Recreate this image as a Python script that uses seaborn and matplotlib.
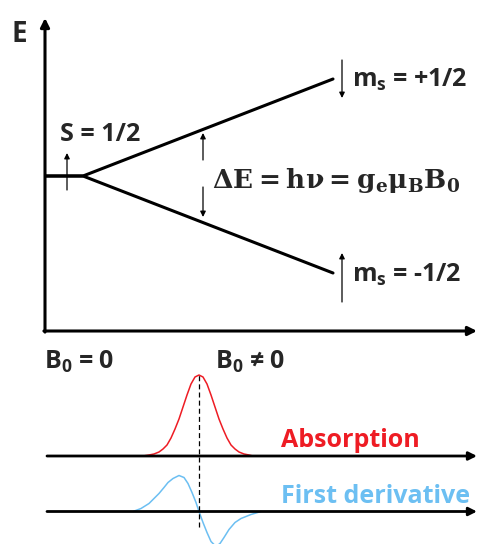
import matplotlib
matplotlib.use('Agg')
import matplotlib.pyplot as plt
import seaborn as sns
import pandas as pd

sns.set_theme(style='white')
plt.rcParams['font.family'] = ['Open Sans', 'DejaVu Sans']
plt.rcParams['font.weight'] = 'bold'
plt.rcParams['mathtext.fontset'] = 'custom'
plt.rcParams['mathtext.rm'] = 'Open Sans:bold'
plt.rcParams['mathtext.it'] = 'Open Sans:bold'
plt.rcParams['mathtext.bf'] = 'Open Sans:bold'

# ---------------- data ----------------
level_field = [0, 38, 288]
upper_energy = [155, 155, 252]   # m_s = +1/2
lower_energy = [155, 155, 58]    # m_s = -1/2

resonance_field = 154

absorption_field = [98, 104, 109, 114, 118, 122, 126, 130, 134, 138, 142, 146, 150, 154,
                    158, 162, 166, 170, 174, 178, 182, 186, 190, 194, 199, 204, 208]
absorption_signal = [0, 1, 2, 4, 7, 11, 18, 27, 37, 49, 61, 72, 79, 81,
                     79, 72, 61, 49, 37, 27, 18, 11, 7, 4, 2, 1, 0]

derivative_field = [88, 96, 104, 109, 114, 119, 123, 128, 134, 139, 143, 147, 151, 154,
                    158, 162, 166, 171, 175, 179, 184, 190, 196, 206, 216]
derivative_signal = [0, 3, 8, 13, 18, 24, 29, 33, 36, 34, 28, 19, 9, 0,
                     -11, -21, -30, -35, -32, -26, -18, -11, -7, -3, 0]

RED = '#ee1c24'
BLUE = '#6cbff2'
W, H = 478, 544

fig = plt.figure(figsize=(W / 100, H / 100), dpi=100)
fig.patch.set_facecolor('white')

ax = fig.add_axes([45 / W, (H - 331) / H, 433 / W, 313 / H])
ax.set_xlim(0, 433)
ax.set_ylim(0, 313)
ax.set_axis_off()

axis_arrow = dict(arrowstyle='-|>', lw=2.2, color='black', mutation_scale=13,
                  shrinkA=0, shrinkB=0)
ax.annotate('', xy=(0, 313), xytext=(0, -1.1), arrowprops=axis_arrow)
ax.annotate('', xy=(432, 0), xytext=(-1.1, 0), arrowprops=axis_arrow)

levels = pd.DataFrame({'B': level_field * 2,
                       'E': upper_energy + lower_energy,
                       'level': ['+1/2'] * 3 + ['-1/2'] * 3})
sns.lineplot(data=levels, x='B', y='E', units='level', estimator=None, sort=False,
             color='black', lw=2.2, ax=ax, legend=False)
ax.set_xlabel('')
ax.set_ylabel('')

small_arrow = dict(arrowstyle='-|>', lw=0.9, color='black', mutation_scale=8,
                   shrinkA=0, shrinkB=0)
ax.annotate('', xy=(22, 178), xytext=(22, 141), arrowprops=small_arrow)
ax.annotate('', xy=(158, 198), xytext=(158, 171), arrowprops=small_arrow)
ax.annotate('', xy=(158, 114), xytext=(158, 144), arrowprops=small_arrow)
ax.annotate('', xy=(297, 233), xytext=(297, 271), arrowprops=small_arrow)
ax.annotate('', xy=(297, 78), xytext=(297, 29), arrowprops=small_arrow)

ax.text(-33, 297, 'E', fontsize=20, va='center', ha='left')
ax.text(15, 190, 'S = 1/2', fontsize=18, va='baseline', ha='left')
ax.text(307, 244, r'm$_\mathrm{s}$ = +1/2', fontsize=18, va='baseline', ha='left')
ax.text(307, 49, r'm$_\mathrm{s}$ = -1/2', fontsize=18, va='baseline', ha='left')
ax.text(167, 143, r'$\mathbf{\Delta E = h\nu = g_e\mu_B B_0}$', fontsize=19,
        math_fontfamily='dejavuserif', va='baseline', ha='left')

bx = fig.add_axes([45 / W, 0, 433 / W, 199 / H])
bx.set_xlim(0, 433)
bx.set_ylim(0, 199)
bx.set_axis_off()

absorption_base = 88
derivative_base = 32.5

base_arrow = dict(arrowstyle='-|>', lw=2.0, color='black', mutation_scale=12,
                  shrinkA=0, shrinkB=0)
bx.annotate('', xy=(432, absorption_base), xytext=(2, absorption_base), arrowprops=base_arrow)
bx.annotate('', xy=(432, derivative_base), xytext=(2, derivative_base), arrowprops=base_arrow)

sns.lineplot(x=absorption_field, y=[v + absorption_base for v in absorption_signal],
             color=RED, lw=1.1, ax=bx, estimator=None, sort=False)
sns.lineplot(x=derivative_field, y=[v + derivative_base for v in derivative_signal],
             color=BLUE, lw=1.1, ax=bx, estimator=None, sort=False)
bx.set_xlabel('')
bx.set_ylabel('')

bx.vlines(resonance_field, 17, absorption_base + max(absorption_signal),
          colors='black', linestyles=(0, (4, 2.5)), lw=0.9)

bx.text(-1, 175, r'B$_0$ = 0', fontsize=18, va='baseline', ha='left')
bx.text(170, 175, r'B$_0$ ≠ 0', fontsize=18, va='baseline', ha='left')
bx.text(236, 97, 'Absorption', fontsize=18, color=RED, va='baseline', ha='left')
bx.text(236, 41, 'First derivative', fontsize=18, color=BLUE, va='baseline', ha='left')

fig.savefig('out.png', dpi=100, facecolor='white')
